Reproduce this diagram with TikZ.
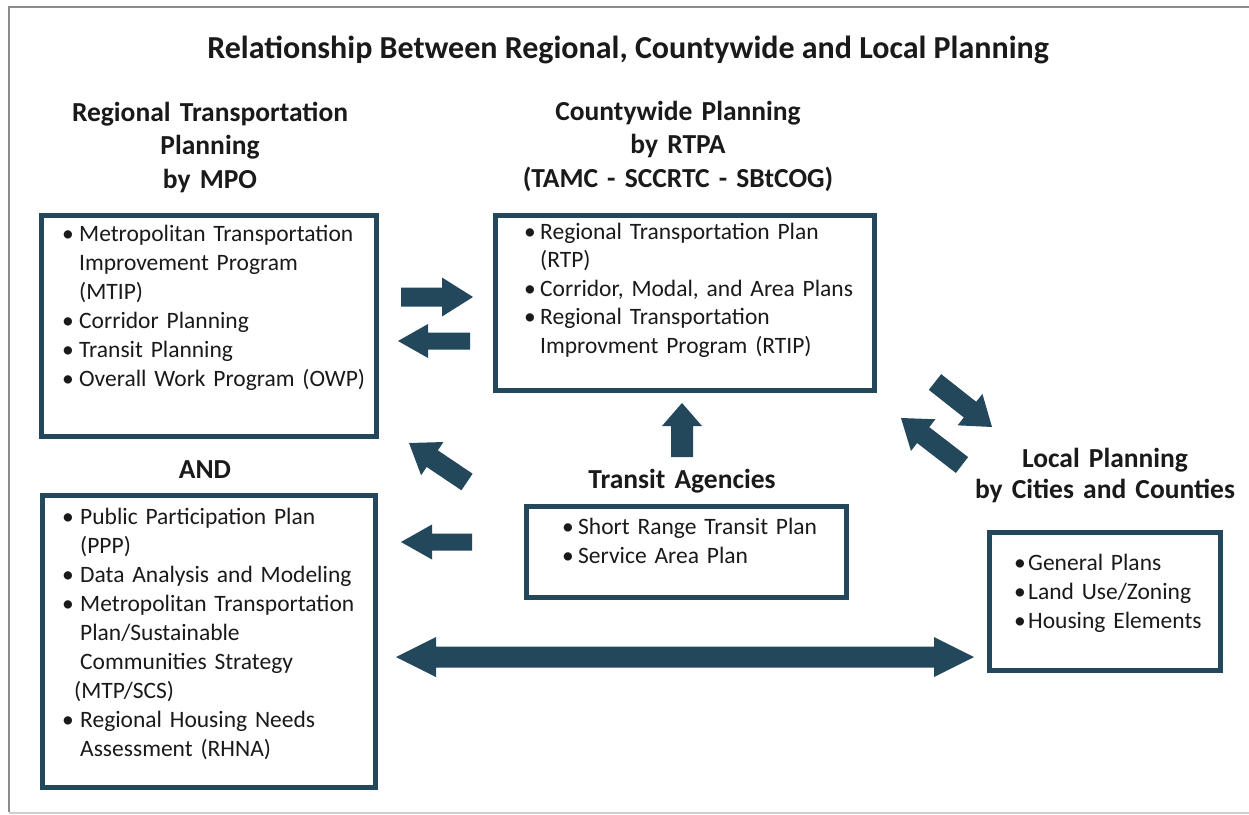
\documentclass[tikz,border=0pt]{standalone}
\usepackage{fontspec}
\setmainfont{Carlito}
\usetikzlibrary{calc}
\definecolor{navy}{HTML}{23485C}
\definecolor{ink}{HTML}{1A1A1A}
\definecolor{framegray}{HTML}{8C8C8C}
\definecolor{framelight}{HTML}{CFCFCF}
\newlength\bw
\newcommand\bitem[1]{\noindent\hangindent=\bw\hangafter=1\makebox[\bw][l]{\textbullet}#1\par}
\newcommand\brk{\hfil\break}
% block arrow from #1 to #2; shaft #3, head width #4, head length #5
\newcommand\blockarrow[5]{%
  \fill[navy] let \p1=(#1), \p2=(#2), \n1={atan2(\y2-\y1,\x2-\x1)}, \n2={veclen(\x2-\x1,\y2-\y1)-#5} in
    ($(\p1)+(\n1+90:#3/2)$) -- ($(\p1)+(\n1:\n2)+(\n1+90:#3/2)$) -- ($(\p1)+(\n1:\n2)+(\n1+90:#4/2)$) --
    (\p2) -- ($(\p1)+(\n1:\n2)+(\n1-90:#4/2)$) -- ($(\p1)+(\n1:\n2)+(\n1-90:#3/2)$) --
    ($(\p1)+(\n1-90:#3/2)$) -- cycle;}
% double block arrow between #1 and #2
\newcommand\dblockarrow[5]{%
  \fill[navy] let \p1=(#1), \p2=(#2), \n1={atan2(\y2-\y1,\x2-\x1)}, \n2={veclen(\x2-\x1,\y2-\y1)-#5}, \n3={#5} in
    (\p1) -- ($(\p1)+(\n1:\n3)+(\n1+90:#4/2)$) -- ($(\p1)+(\n1:\n3)+(\n1+90:#3/2)$) --
    ($(\p1)+(\n1:\n2)+(\n1+90:#3/2)$) -- ($(\p1)+(\n1:\n2)+(\n1+90:#4/2)$) --
    (\p2) -- ($(\p1)+(\n1:\n2)+(\n1-90:#4/2)$) -- ($(\p1)+(\n1:\n2)+(\n1-90:#3/2)$) --
    ($(\p1)+(\n1:\n3)+(\n1-90:#3/2)$) -- ($(\p1)+(\n1:\n3)+(\n1-90:#4/2)$) -- cycle;}
\begin{document}
\begin{tikzpicture}[x=1pt,y=-1pt,
  box/.style={draw=navy, line width=5pt, inner sep=0pt, fill=white},
  titletext/.style={font=\fontsize{32}{36}\selectfont\bfseries, text=ink, inner sep=0pt},
  head/.style={font=\fontsize{27.5}{33.5}\selectfont\bfseries, text=ink, inner sep=0pt, text width=420pt, align=center, anchor=base},
  body/.style={font=\fontsize{23.5}{29}\selectfont, text=ink, inner sep=0pt, text width=340pt, align=left, anchor=base west}]
\useasboundingbox (0,0) rectangle (1249,814);
\fill[white] (0,0) rectangle (1249,814);
% outer frame
\draw[framegray, line width=2.5pt] (9,812) -- (9,7) -- (1249,7);
\draw[framelight, line width=1.5pt] (9,813) -- (1249,813);

% title
\node[titletext, anchor=base] (title) at (628,58) {Relationship Between Regional, Countywide and Local Planning};

% headings
\node[head] (hmpo) at (210,121) {Regional Transportation\\Planning\\by MPO};
\node[head] (hcty) at (678,120) {Countywide Planning\\by RTPA\\(TAMC - SCCRTC - SBtCOG)};
\node[head] (hand) at (205,478) {AND};
\node[head] (htra) at (682,488) {Transit Agencies};
\node[head, font=\fontsize{27.5}{31}\selectfont\bfseries] (hloc) at (1105,467) {Local Planning\\by Cities and Counties};

% boxes
\node[box, minimum width=335pt, minimum height=221pt] (mpo1) at (209,326) {};
\node[box, minimum width=333pt, minimum height=292pt] (mpo2) at (209,641.5) {};
\node[box, minimum width=379pt, minimum height=175pt] (cty) at (685,303) {};
\node[box, line width=4.5pt, minimum width=320pt, minimum height=91pt] (tra) at (686.5,552) {};
\node[box, minimum width=231pt, minimum height=138pt] (loc) at (1105,601.5) {};

% box contents
\node[body] (t1) at (62,241) {\setlength\bw{17pt}%
  \bitem{Metropolitan Transportation\brk Improvement Program\brk (MTIP)}%
  \bitem{Corridor Planning}%
  \bitem{Transit Planning}%
  \bitem{Overall Work Program (OWP)}};
\node[body] (t2) at (62,524) {\setlength\bw{18pt}%
  \bitem{Public Participation Plan\brk (PPP)}%
  \bitem{Data Analysis and Modeling}%
  \bitem{Metropolitan Transportation\brk Plan/Sustainable\brk Communities Strategy\brk \hspace*{-6pt}(MTP/SCS)}%
  \bitem{Regional Housing Needs\brk Assessment (RHNA)}};
\node[body, font=\fontsize{23.5}{28.6}\selectfont] (t3) at (524,239) {\setlength\bw{16pt}%
  \bitem{Regional Transportation Plan\brk (RTP)}%
  \bitem{Corridor, Modal, and Area Plans}%
  \bitem{Regional Transportation\brk Improvment Program (RTIP)}};
\node[body] (t4) at (562,534) {\setlength\bw{16pt}%
  \bitem{Short Range Transit Plan}%
  \bitem{Service Area Plan}};
\node[body] (t5) at (1014,570) {\setlength\bw{14pt}%
  \bitem{General Plans}%
  \bitem{Land Use/Zoning}%
  \bitem{Housing Elements}};

% arrow end points
\coordinate (a1s) at (401,297);  \coordinate (a1e) at (473,297);
\coordinate (a2s) at (470,341);  \coordinate (a2e) at (398,341);
\coordinate (a3s) at (467,482);  \coordinate (a3e) at (409,443);
\coordinate (a4s) at (472,542);  \coordinate (a4e) at (401,542);
\coordinate (a5s) at (682,457);  \coordinate (a5e) at (682,403);
\coordinate (a6s) at (935,382);  \coordinate (a6e) at (992,427);
\coordinate (a7s) at (962,465);  \coordinate (a7e) at (901,418);
\coordinate (a8s) at (396,657);  \coordinate (a8e) at (974,657);

\blockarrow{a1s}{a1e}{19pt}{39pt}{31pt}
\blockarrow{a2s}{a2e}{17pt}{34pt}{30pt}
\blockarrow{a3s}{a3e}{20pt}{40pt}{28pt}
\blockarrow{a4s}{a4e}{17pt}{35pt}{31pt}
\blockarrow{a5s}{a5e}{22pt}{40pt}{23pt}
\blockarrow{a6s}{a6e}{20pt}{40pt}{28pt}
\blockarrow{a7s}{a7e}{20pt}{40pt}{28pt}
\dblockarrow{a8s}{a8e}{21pt}{40pt}{40pt}
\end{tikzpicture}
\end{document}
